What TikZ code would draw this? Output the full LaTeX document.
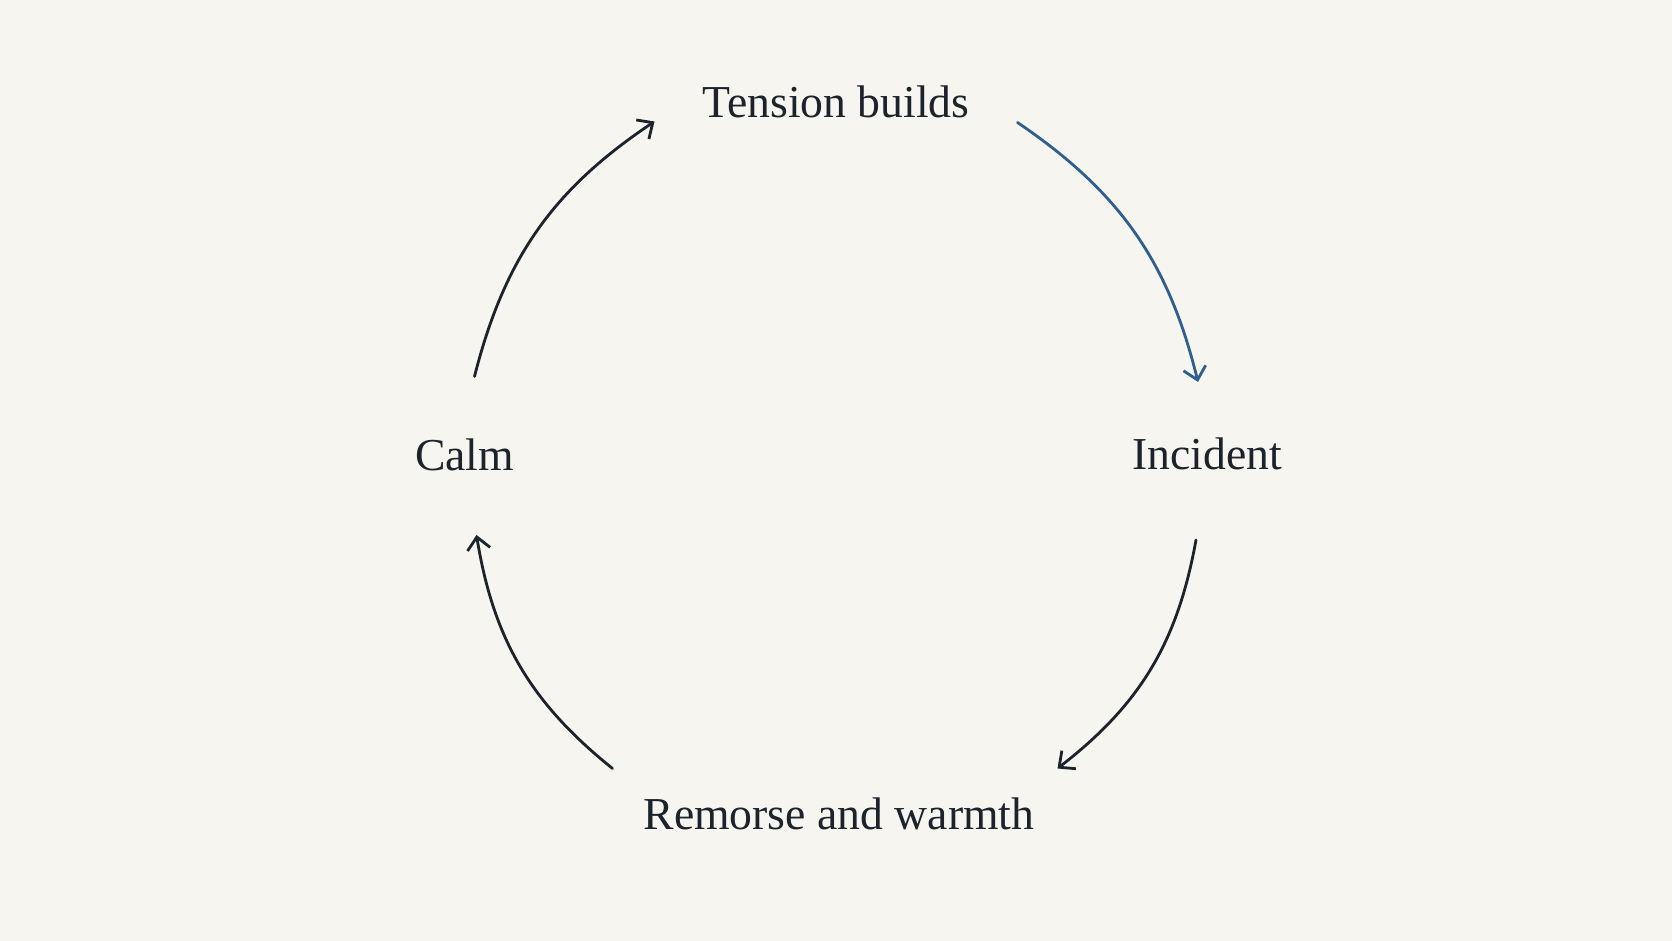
\documentclass[tikz,border=0pt]{standalone}
\usepackage{fontspec}
\setmainfont{Liberation Serif}
\usetikzlibrary{positioning,arrows.meta}
\definecolor{paper}{HTML}{F7F5F0}
\definecolor{ink}{HTML}{1C232C}
\definecolor{cycleblue}{HTML}{2F5F8D}
\begin{document}
\begin{tikzpicture}
	\tikzstyle{stage}=[anchor=base, text=ink, inner sep=0pt, font=\fontsize{26}{30}\selectfont]
	\tikzstyle{connect}=[-{Straight Barb[length=7pt,width=13pt]}, line width=1.6pt, line cap=round, draw=ink, bend left=21]
	\fill[paper] (0,0) rectangle (33.44,18.82);
	% the four stages of the cycle
	\node[stage] (tension) at (16.72,16.46) {Tension builds};
	\node[stage] (incident) at (24.14,9.42) {Incident};
	\node[stage] (remorse) at (16.78,2.22) {Remorse and warmth};
	\node[stage] (calm) at (9.29,9.41) {Calm};
	% arrow ends next to each stage
	\coordinate (calm-out) at ([shift={(0.2,1.88)}]calm.base);
	\coordinate (calm-in) at ([shift={(0.24,-1.29)}]calm.base);
	\coordinate (tension-in) at ([shift={(-3.63,-0.07)}]tension.base);
	\coordinate (tension-out) at ([shift={(3.63,-0.09)}]tension.base);
	\coordinate (incident-in) at ([shift={(-0.18,1.76)}]incident.base);
	\coordinate (incident-out) at ([shift={(-0.22,-1.4)}]incident.base);
	\coordinate (remorse-in) at ([shift={(4.37,1.23)}]remorse.base);
	\coordinate (remorse-out) at ([shift={(-4.53,1.23)}]remorse.base);
	
	\path (calm-out) edge [connect] (tension-in)
	(tension-out) edge [connect, draw=cycleblue] (incident-in)
	(incident-out) edge [connect] (remorse-in)
	(remorse-out) edge [connect] (calm-in);
\end{tikzpicture}
\end{document}
